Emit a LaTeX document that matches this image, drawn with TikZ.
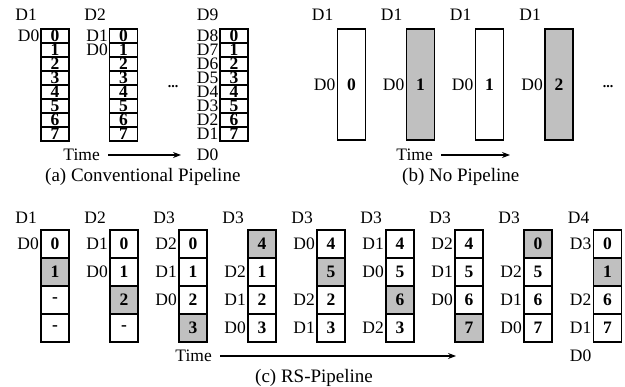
\documentclass[tikz,border=0pt]{standalone}
\usepackage{fontspec}
\setmainfont{Liberation Serif}
\usetikzlibrary{arrows.meta}
\definecolor{hlgray}{RGB}{192,192,192}
\newcommand\rscell[6]{%
  \node[ccell, fill=#6] (c#1r#3) at (#2, 244+28*#3) {#5};%
  \if\relax\detokenize{#4}\relax\else
    \node[lab] (l#1r#3) at (#2-16, 244+28*#3) {#4};%
  \fi}
\tikzset{
  cell/.style={draw, line width=1.4pt, minimum width=28pt, inner sep=0pt,
    font=\fontsize{17.5}{17.5}\selectfont\bfseries},
  acell/.style={cell, minimum height=14pt},
  bcell/.style={cell, minimum height=111pt},
  ccell/.style={cell, minimum height=28pt},
  lab/.style={font=\fontsize{17.5}{17.5}\selectfont, inner sep=0pt, anchor=east},
  captext/.style={font=\fontsize{19}{19}\selectfont, inner sep=0pt, anchor=west},
  dots/.style={font=\fontsize{14}{14}\selectfont\bfseries, inner sep=0pt},
  timearrow/.style={-{Stealth[length=8pt,width=6pt]}, line width=1.1pt},
}
\begin{document}
\begin{tikzpicture}[x=1pt,y=-1pt]
\useasboundingbox (0,0) rectangle (625,387);
% ---------- (a) Conventional Pipeline ----------
\foreach \c/\x in {1/55,2/123.5,3/234}{
  \foreach \r in {0,...,7}{
    \node[acell] (a\c r\r) at (\x, 36+14*\r) {\r};
  }
}
\node[lab] (a1top) at (37,15) {D1};
\node[lab] (a1l0) at (39.5,36) {D0};
\node[lab] (a2top) at (106,15) {D2};
\node[lab] (a2l0) at (108,36) {D1};
\node[lab] (a2l1) at (108,50) {D0};
\node[lab] (a3top) at (218.5,15) {D9};
\foreach \r/\t in {0/D8,1/D7,2/D6,3/D5,4/D4,5/D3,6/D2,7/D1}{
  \node[lab] (a3l\r) at (218.5, 36+14*\r) {\t};
}
\node[lab] (a3bot) at (218.5,155) {D0};
\node[dots] (adots) at (173,87) {...};
\node[lab] (timeA) at (100,155) {Time};
\coordinate (endA) at (181,155);
\draw[timearrow] ([xshift=8pt]timeA.east) -- (endA);
\node[captext] (capA) at (45,177) {(a) Conventional Pipeline};
% ---------- (b) No Pipeline ----------
\foreach \i/\x/\t/\f in {1/351.5/0/white,2/420.5/1/hlgray,3/489.5/1/white,4/559/2/hlgray}{
  \node[bcell, fill=\f] (b\i) at (\x,84.5) {\t};
  \node[lab] (b\i top) at (\x-18,15) {D1};
  \node[lab] (b\i l) at (\x-16,85) {D0};
}
\node[dots] (bdots) at (608,87) {...};
\node[lab] (timeB) at (433,155) {Time};
\coordinate (endB) at (510,155);
\draw[timearrow] ([xshift=8pt]timeB.east) -- (endB);
\node[captext] (capB) at (402,177) {(b) No Pipeline};
% ---------- (c) RS-Pipeline ----------
\foreach \c/\x/\t in {1/55/D1,2/124/D2,3/193/D3,4/262/D3,5/331/D3,6/400/D3,7/469/D3,8/538/D3,9/607.5/D4}{
  \node[lab] (c\c top) at (\x-18,218) {\t};
}
\rscell{1}{55}{0}{D0}{0}{white}
\rscell{1}{55}{1}{}{1}{hlgray}
\rscell{1}{55}{2}{}{-}{white}
\rscell{1}{55}{3}{}{-}{white}
\rscell{2}{124}{0}{D1}{0}{white}
\rscell{2}{124}{1}{D0}{1}{white}
\rscell{2}{124}{2}{}{2}{hlgray}
\rscell{2}{124}{3}{}{-}{white}
\rscell{3}{193}{0}{D2}{0}{white}
\rscell{3}{193}{1}{D1}{1}{white}
\rscell{3}{193}{2}{D0}{2}{white}
\rscell{3}{193}{3}{}{3}{hlgray}
\rscell{4}{262}{0}{}{4}{hlgray}
\rscell{4}{262}{1}{D2}{1}{white}
\rscell{4}{262}{2}{D1}{2}{white}
\rscell{4}{262}{3}{D0}{3}{white}
\rscell{5}{331}{0}{D0}{4}{white}
\rscell{5}{331}{1}{}{5}{hlgray}
\rscell{5}{331}{2}{D2}{2}{white}
\rscell{5}{331}{3}{D1}{3}{white}
\rscell{6}{400}{0}{D1}{4}{white}
\rscell{6}{400}{1}{D0}{5}{white}
\rscell{6}{400}{2}{}{6}{hlgray}
\rscell{6}{400}{3}{D2}{3}{white}
\rscell{7}{469}{0}{D2}{4}{white}
\rscell{7}{469}{1}{D1}{5}{white}
\rscell{7}{469}{2}{D0}{6}{white}
\rscell{7}{469}{3}{}{7}{hlgray}
\rscell{8}{538}{0}{}{0}{hlgray}
\rscell{8}{538}{1}{D2}{5}{white}
\rscell{8}{538}{2}{D1}{6}{white}
\rscell{8}{538}{3}{D0}{7}{white}
\rscell{9}{607.5}{0}{D3}{0}{white}
\rscell{9}{607.5}{1}{}{1}{hlgray}
\rscell{9}{607.5}{2}{D2}{6}{white}
\rscell{9}{607.5}{3}{D1}{7}{white}
\node[lab] (c9bot) at (591.5,356) {D0};
\node[lab] (timeC) at (212,356) {Time};
\coordinate (endC) at (456,356);
\draw[timearrow] ([xshift=8pt]timeC.east) -- (endC);
\node[captext] (capC) at (255,378) {(c) RS-Pipeline};
\end{tikzpicture}
\end{document}
